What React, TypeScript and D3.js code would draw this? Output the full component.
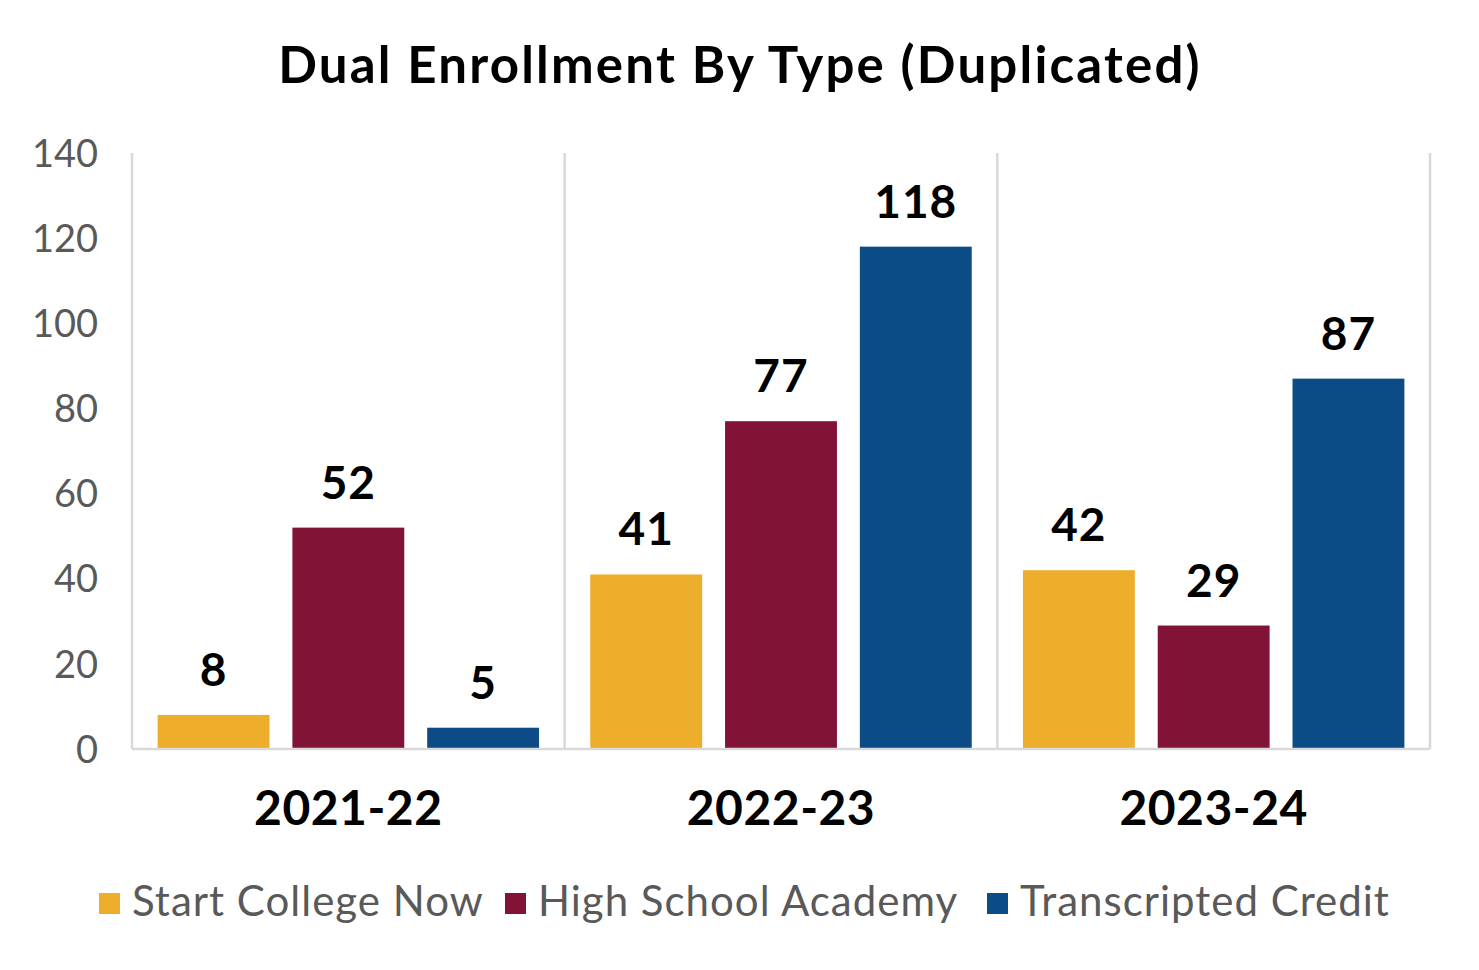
import { useEffect, useRef } from 'react'
import * as d3 from 'd3'

const years = ['2021-22', '2022-23', '2023-24']
const seriesNames = ['Start College Now', 'High School Academy', 'Transcripted Credit']
const seriesColors = ['#EDAE2C', '#801336', '#0B4C86']
const startCollegeNow = [8, 41, 42]
const highSchoolAcademy = [52, 77, 29]
const transcriptedCredit = [5, 118, 87]
const yTicks = [0, 20, 40, 60, 80, 100, 120, 140]

const W = 1479
const H = 970
const FONT = 'Lato, "Open Sans", sans-serif'

export default function App() {
    const svgRef = useRef<SVGSVGElement>(null)

    useEffect(() => {
        if (!svgRef.current) return
        const svg = d3.select(svgRef.current)
        svg.selectAll('*').remove()

        const values = [startCollegeNow, highSchoolAcademy, transcriptedCredit]
        const left = 132, right = 1430, top = 153, bottom = 749

        const x0 = d3.scaleBand().domain(years).range([left, right]).padding(0)
        const x1 = d3.scaleBand<number>()
            .domain([0, 1, 2])
            .range([0, x0.bandwidth()])
            .paddingInner(0.17)
            .paddingOuter(0.19)
        const y = d3.scaleLinear().domain([0, 140]).range([bottom, top])

        // title
        svg.append('text')
            .attr('x', 740)
            .attr('y', 83)
            .attr('text-anchor', 'middle')
            .style('font-family', FONT)
            .style('font-weight', 'bold')
            .style('font-size', '51px')
            .style('letter-spacing', '2.2px')
            .attr('fill', '#000')
            .text('Dual Enrollment By Type (Duplicated)')

        // group separators
        const seps = [...years.map(d => x0(d)!), right]
        svg.selectAll('.sep')
            .data(seps)
            .enter()
            .append('line')
            .attr('x1', d => d)
            .attr('x2', d => d)
            .attr('y1', top)
            .attr('y2', bottom)
            .attr('stroke', '#d9d9d9')
            .attr('stroke-width', 2.5)

        // y tick labels
        svg.selectAll('.ytick')
            .data(yTicks)
            .enter()
            .append('text')
            .attr('x', 98)
            .attr('y', d => y(d))
            .attr('dy', '0.36em')
            .attr('text-anchor', 'end')
            .style('font-family', FONT)
            .style('font-size', '38px')
            .attr('fill', '#595959')
            .text(d => d)

        // bars
        values.forEach((vals, si) => {
            const g = svg.append('g')
            g.selectAll('rect')
                .data(vals)
                .enter()
                .append('rect')
                .attr('x', (_, i) => x0(years[i])! + x1(si)!)
                .attr('width', x1.bandwidth())
                .attr('y', d => y(d))
                .attr('height', d => bottom - y(d))
                .attr('fill', seriesColors[si])

            g.selectAll('text')
                .data(vals)
                .enter()
                .append('text')
                .attr('x', (_, i) => x0(years[i])! + x1(si)! + x1.bandwidth() / 2)
                .attr('y', d => y(d) - 29)
                .attr('text-anchor', 'middle')
                .style('font-family', FONT)
                .style('font-weight', 'bold')
                .style('font-size', '46px')
                .style('letter-spacing', '1px')
                .attr('fill', '#000')
                .text(d => d)
        })

        // baseline
        svg.append('line')
            .attr('x1', left)
            .attr('x2', right)
            .attr('y1', bottom)
            .attr('y2', bottom)
            .attr('stroke', '#d9d9d9')
            .attr('stroke-width', 2.5)

        // category labels
        svg.selectAll('.cat')
            .data(years)
            .enter()
            .append('text')
            .attr('x', d => x0(d)! + x0.bandwidth() / 2)
            .attr('y', 825)
            .attr('text-anchor', 'middle')
            .style('font-family', FONT)
            .style('font-weight', 'bold')
            .style('font-size', '48px')
            .style('letter-spacing', '0.5px')
            .attr('fill', '#000')
            .text(d => d)

        // legend
        const legendX = [99, 505, 987]
        seriesNames.forEach((name, i) => {
            svg.append('rect')
                .attr('x', legendX[i])
                .attr('y', 893)
                .attr('width', 21)
                .attr('height', 21)
                .attr('fill', seriesColors[i])
            svg.append('text')
                .attr('x', legendX[i] + 33)
                .attr('y', 916)
                .style('font-family', FONT)
                .style('font-size', '42px')
                .style('letter-spacing', '1px')
                .attr('fill', '#595959')
                .text(name)
        })
    }, [])

    return (
        <div style={{ position: 'absolute', left: 0, top: 0 }}>
            <svg ref={svgRef} width={W} height={H} style={{ display: 'block', background: '#fff' }}></svg>
        </div>
    )
}
